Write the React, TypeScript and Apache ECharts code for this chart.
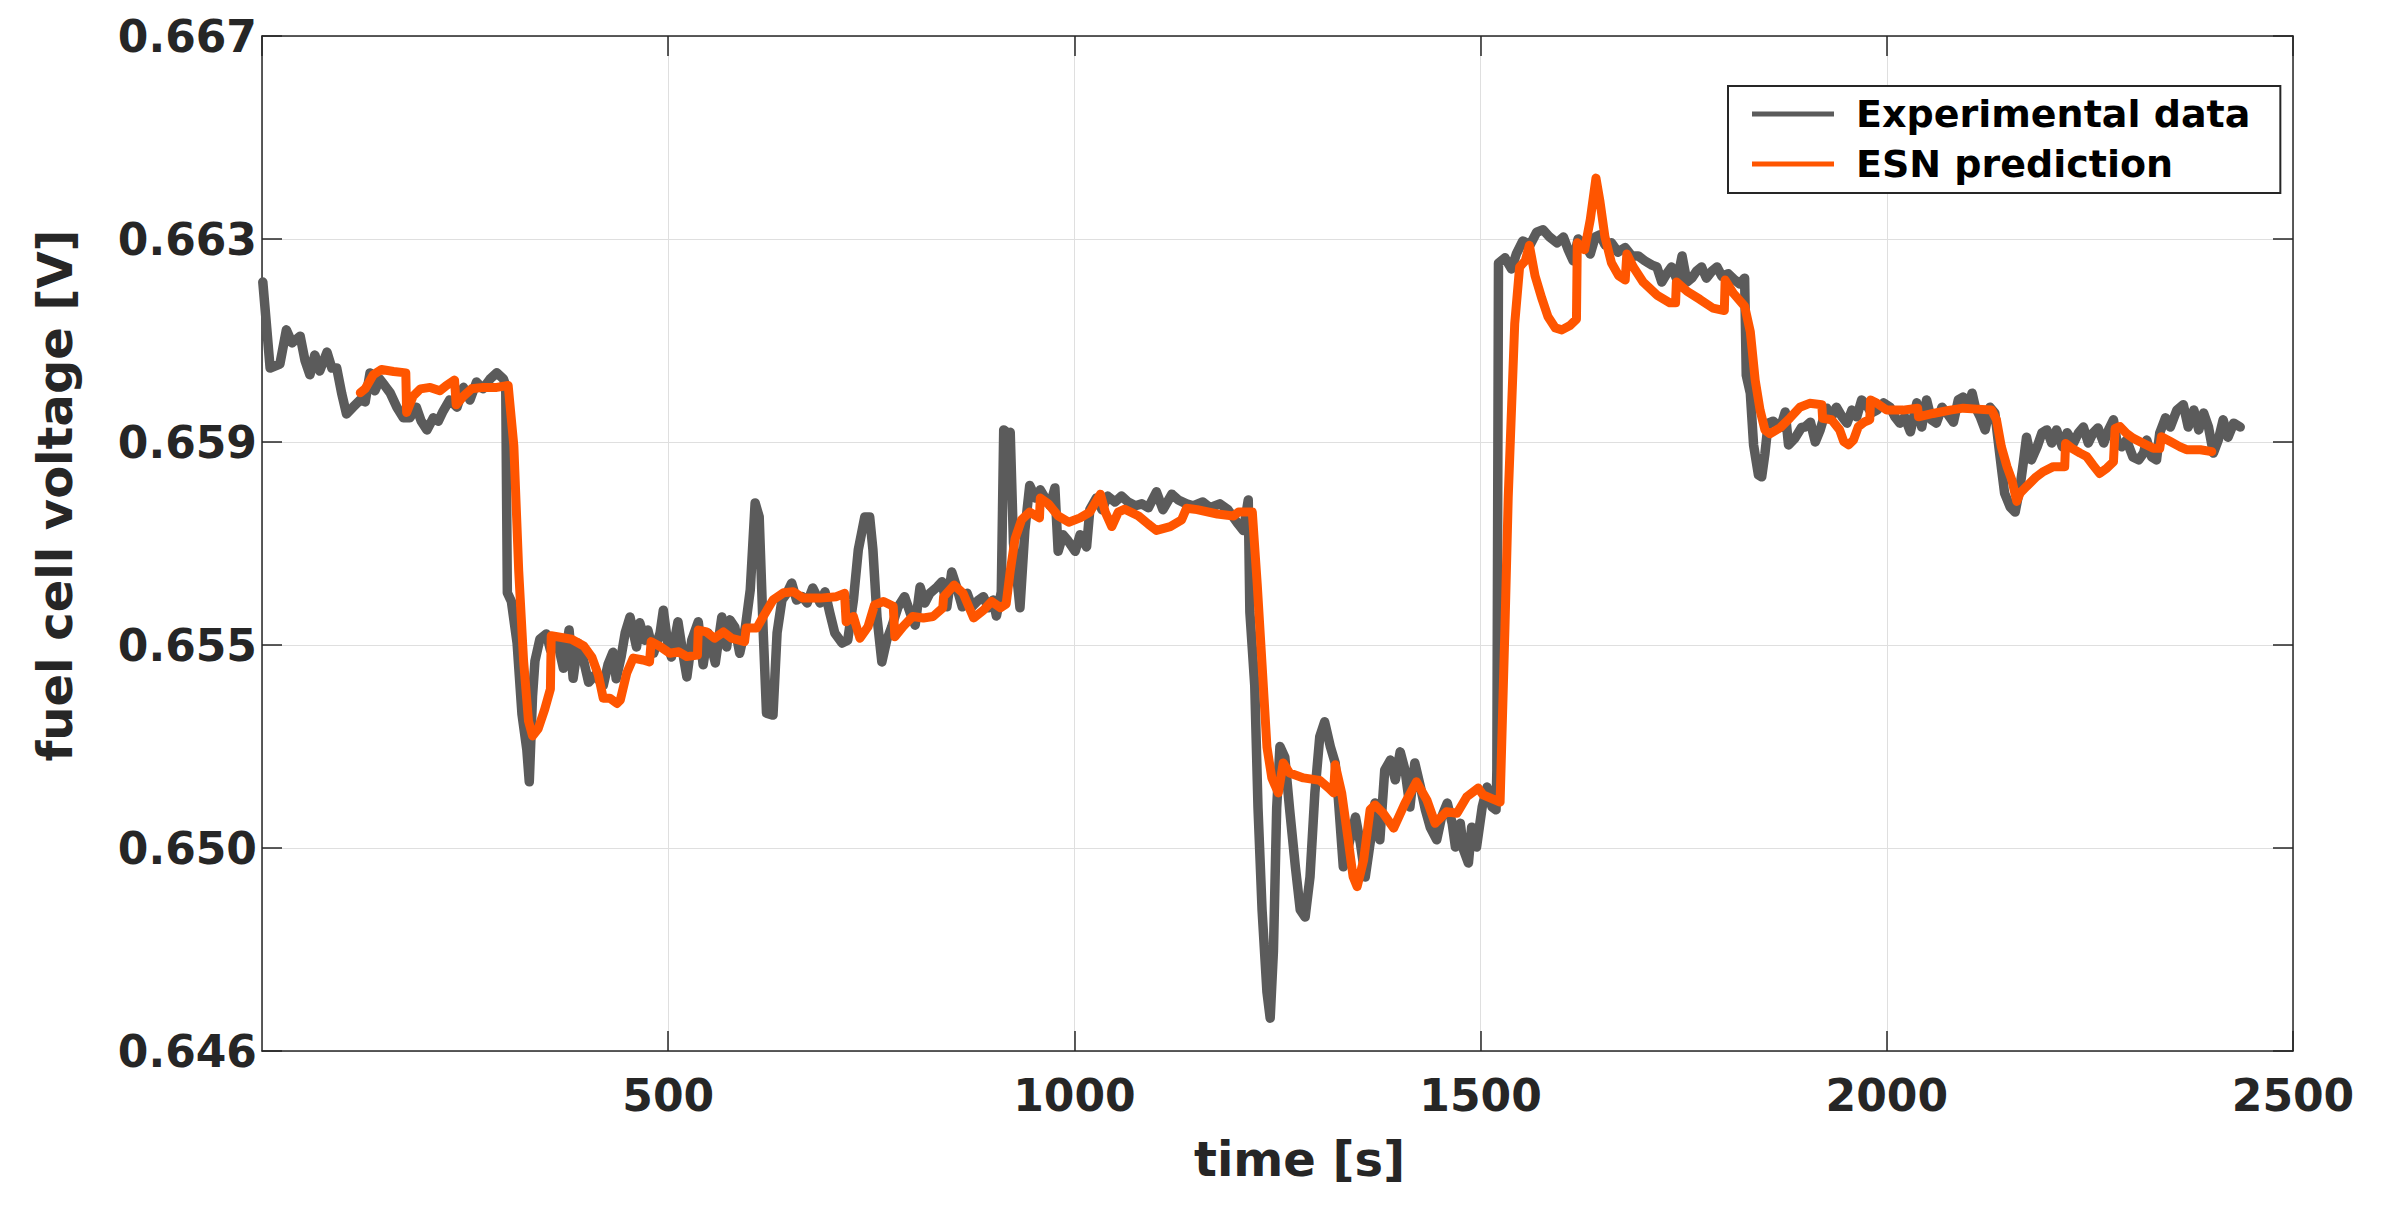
import React, { useEffect, useRef } from "react";
import * as echarts from "echarts";

// ---- axis settings ----
const X_MIN = 0;
const X_MAX = 2500;
const X_STEP = 500;
const Y_MIN = 0.6462;
const Y_MAX = 0.6672;
const Y_STEP = 0.0042;

const seriesNames = ["Experimental data", "ESN prediction"];

// ---- experimental data (time [s], voltage [V]) ----
const expTime = [
  1, 10, 22, 30, 37, 47, 53, 59, 65, 71, 80, 86, 92, 98, 104, 112, 121, 127, 133, 139,
  145, 151, 158, 166, 174, 182, 190, 196, 203, 211, 217, 223, 231, 240, 248, 256, 264, 272, 281, 289,
  297, 300, 302, 307, 314, 320, 326, 329, 333, 336, 342, 350, 355, 363, 371, 378, 383, 389, 396, 402,
  410, 420, 426, 432, 436, 442, 447, 453, 461, 465, 471, 475, 482, 490, 494, 500, 504, 512, 518, 523,
  529, 537, 543, 549, 558, 566, 572, 576, 582, 588, 595, 601, 607, 612, 617, 621, 629, 634, 640, 646,
  652, 658, 665, 671, 678, 687, 693, 699, 705, 714, 721, 728, 734, 742, 748, 752, 757, 763, 769, 775,
  783, 791, 798, 804, 810, 816, 822, 831, 837, 843, 849, 855, 862, 868, 874, 882, 888, 894, 900, 904,
  910, 913, 917, 921, 925, 933, 939, 945, 952, 958, 964, 970, 976, 980, 986, 992, 1001, 1007, 1015, 1019,
  1027, 1034, 1041, 1050, 1058, 1066, 1075, 1083, 1091, 1101, 1109, 1120, 1128, 1138, 1146, 1158, 1167, 1179, 1189, 1200,
  1208, 1214, 1216, 1222, 1226, 1231, 1237, 1241, 1245, 1249, 1253, 1259, 1265, 1272, 1278, 1284, 1290, 1296, 1302, 1308,
  1315, 1321, 1325, 1331, 1337, 1346, 1352, 1358, 1364, 1370, 1376, 1382, 1389, 1395, 1401, 1407, 1413, 1419, 1426, 1432,
  1438, 1446, 1452, 1459, 1465, 1469, 1475, 1479, 1485, 1489, 1495, 1502, 1508, 1514, 1519, 1520, 1522, 1530, 1538, 1544,
  1552, 1561, 1569, 1577, 1585, 1594, 1602, 1608, 1614, 1620, 1629, 1635, 1641, 1647, 1653, 1661, 1669, 1678, 1686, 1694,
  1702, 1711, 1717, 1723, 1729, 1735, 1742, 1748, 1754, 1760, 1766, 1772, 1778, 1785, 1791, 1797, 1805, 1813, 1819, 1825,
  1827, 1832, 1836, 1842, 1846, 1850, 1854, 1860, 1869, 1875, 1879, 1887, 1895, 1899, 1906, 1912, 1918, 1926, 1932, 1938,
  1945, 1951, 1957, 1963, 1969, 1975, 1981, 1988, 1996, 2004, 2010, 2016, 2022, 2029, 2037, 2043, 2049, 2055, 2061, 2068,
  2074, 2082, 2088, 2094, 2100, 2105, 2109, 2115, 2121, 2127, 2133, 2137, 2141, 2145, 2152, 2158, 2164, 2168, 2172, 2178,
  2185, 2191, 2197, 2203, 2209, 2216, 2222, 2230, 2236, 2242, 2248, 2254, 2260, 2267, 2273, 2279, 2283, 2289, 2295, 2303,
  2310, 2316, 2320, 2326, 2332, 2336, 2343, 2349, 2357, 2365, 2371, 2378, 2384, 2390, 2396, 2402, 2408, 2414, 2420, 2427,
  2435,
];
const expVoltage = [
  0.66211, 0.66033, 0.66041, 0.66112, 0.66085, 0.66099, 0.66048, 0.66019, 0.6606, 0.66027, 0.66066, 0.66033, 0.66033, 0.65981, 0.65938, 0.65952, 0.65967, 0.65963, 0.66023, 0.65986,
  0.6601, 0.65997, 0.65981, 0.65952, 0.6593, 0.6593, 0.65952, 0.65923, 0.65905, 0.6593, 0.65923, 0.65944, 0.65967, 0.65952, 0.65993, 0.65967, 0.66004, 0.6599, 0.66011, 0.66023,
  0.66011, 0.65997, 0.65568, 0.6555, 0.65464, 0.65317, 0.65243, 0.65177, 0.65354, 0.65427, 0.65472, 0.65483, 0.6545, 0.65472, 0.65412, 0.65491, 0.65391, 0.65464, 0.65427, 0.65383,
  0.65398, 0.65376, 0.6542, 0.65445, 0.6539, 0.65435, 0.65485, 0.65518, 0.65456, 0.65506, 0.6547, 0.65491, 0.65443, 0.65485, 0.65532, 0.65456, 0.65435, 0.65508, 0.65443, 0.65394,
  0.6547, 0.65508, 0.65419, 0.65485, 0.65423, 0.65518, 0.65456, 0.65512, 0.65497, 0.65443, 0.65497, 0.65574, 0.65754, 0.65725, 0.65485, 0.65319, 0.65315, 0.65485, 0.65553, 0.65567,
  0.65588, 0.65553, 0.6556, 0.65547, 0.65578, 0.65547, 0.6557, 0.65526, 0.65485, 0.65464, 0.6547, 0.65553, 0.65657, 0.65725, 0.65725, 0.65657, 0.65518, 0.65425, 0.6547, 0.65497,
  0.65539, 0.6556, 0.65526, 0.65501, 0.6558, 0.65547, 0.65567, 0.6558, 0.65591, 0.65539, 0.65611, 0.6558, 0.65539, 0.65567, 0.65539, 0.65553, 0.6556, 0.65537, 0.65553, 0.6552,
  0.6557, 0.65905, 0.65899, 0.659, 0.65671, 0.65537, 0.65697, 0.6579, 0.65764, 0.65781, 0.65764, 0.65748, 0.65785, 0.65654, 0.65688, 0.65676, 0.65654, 0.65688, 0.65663, 0.6574,
  0.65764, 0.6574, 0.65768, 0.65756, 0.65768, 0.65756, 0.65748, 0.65752, 0.65744, 0.65777, 0.6574, 0.65772, 0.6576, 0.65752, 0.65748, 0.65756, 0.65744, 0.65752, 0.6574, 0.65714,
  0.65697, 0.6576, 0.65528, 0.65376, 0.65123, 0.64912, 0.64742, 0.64688, 0.64827, 0.65123, 0.6525, 0.65228, 0.65119, 0.65001, 0.64912, 0.64897, 0.6498, 0.65154, 0.6527, 0.65301,
  0.6525, 0.65216, 0.65139, 0.65001, 0.65042, 0.65104, 0.6505, 0.6498, 0.6505, 0.65133, 0.65057, 0.65201, 0.65222, 0.65181, 0.65239, 0.65201, 0.65125, 0.65216, 0.65166, 0.65119,
  0.65083, 0.65057, 0.65104, 0.65133, 0.65091, 0.65042, 0.65091, 0.65036, 0.65009, 0.65083, 0.65042, 0.65125, 0.65166, 0.65125, 0.65119, 0.652, 0.6625, 0.66261, 0.66238, 0.66269,
  0.66296, 0.66288, 0.66314, 0.66319, 0.66304, 0.66292, 0.66304, 0.66277, 0.66255, 0.663, 0.66288, 0.66269, 0.66304, 0.66309, 0.66288, 0.66292, 0.66273, 0.66282, 0.66265, 0.66265,
  0.66255, 0.66246, 0.66242, 0.66211, 0.66228, 0.66242, 0.66215, 0.66265, 0.66211, 0.66219, 0.66234, 0.66242, 0.66219, 0.66234, 0.66242, 0.66223, 0.66228, 0.66215, 0.66207, 0.66219,
  0.66018, 0.65981, 0.65874, 0.65812, 0.65808, 0.65856, 0.65919, 0.65923, 0.6591, 0.65942, 0.65874, 0.65888, 0.6591, 0.65911, 0.65921, 0.6588, 0.65905, 0.6595, 0.65932, 0.65952,
  0.65932, 0.65919, 0.65946, 0.65932, 0.65967, 0.65957, 0.6594, 0.65946, 0.65961, 0.65952, 0.65932, 0.65919, 0.65932, 0.65901, 0.65961, 0.65911, 0.65967, 0.65926, 0.65919, 0.65952,
  0.6594, 0.65921, 0.65967, 0.65973, 0.65952, 0.65981, 0.65952, 0.65932, 0.65905, 0.65952, 0.6594, 0.65884, 0.65828, 0.65774, 0.65745, 0.65735, 0.65787, 0.65837, 0.6589, 0.65843,
  0.6587, 0.65899, 0.65905, 0.65878, 0.65905, 0.6587, 0.65899, 0.65878, 0.65899, 0.65911, 0.65878, 0.65899, 0.65909, 0.65878, 0.65905, 0.65926, 0.65884, 0.6587, 0.65884, 0.65849,
  0.65843, 0.65857, 0.65884, 0.65849, 0.65843, 0.65899, 0.6593, 0.65911, 0.65946, 0.65957, 0.65911, 0.65946, 0.65905, 0.6594, 0.65911, 0.65857, 0.65884, 0.65926, 0.6589, 0.65919,
  0.65911,
];

// ---- ESN prediction (time [s], voltage [V]) ----
const esnTime = [
  121, 127, 137, 147, 162, 177, 178, 186, 195, 207, 219, 227, 237, 239, 248, 258, 272, 289, 303, 310,
  316, 322, 328, 333, 340, 348, 355, 356, 367, 381, 396, 406, 414, 420, 428, 437, 441, 449, 457, 469,
  477, 479, 490, 502, 513, 523, 536, 537, 547, 557, 568, 578, 594, 596, 609, 617, 629, 642, 654, 666,
  687, 707, 717, 719, 728, 736, 746, 754, 765, 777, 779, 789, 801, 814, 826, 838, 839, 852, 863, 876,
  888, 898, 909, 916, 921, 927, 935, 945, 957, 958, 968, 980, 993, 1007, 1019, 1032, 1038, 1046, 1054, 1062,
  1079, 1091, 1101, 1118, 1132, 1138, 1151, 1176, 1196, 1202, 1219, 1225, 1231, 1237, 1243, 1251, 1257, 1265, 1282, 1302,
  1313, 1319, 1321, 1329, 1337, 1343, 1348, 1356, 1364, 1370, 1380, 1393, 1407, 1421, 1434, 1444, 1458, 1471, 1483, 1497,
  1503, 1524, 1530, 1534, 1538, 1542, 1548, 1555, 1560, 1567, 1575, 1583, 1592, 1600, 1610, 1618, 1619, 1628, 1635, 1642,
  1647, 1653, 1661, 1670, 1678, 1680, 1688, 1700, 1717, 1733, 1740, 1741, 1754, 1770, 1786, 1800, 1801, 1811, 1825, 1832,
  1838, 1844, 1850, 1856, 1869, 1881, 1893, 1905, 1920, 1921, 1932, 1942, 1947, 1953, 1959, 1965, 1973, 1979, 1980, 1988,
  2000, 2020, 2038, 2039, 2057, 2078, 2094, 2111, 2129, 2135, 2141, 2148, 2154, 2160, 2164, 2172, 2184, 2193, 2205, 2219,
  2220, 2228, 2238, 2246, 2254, 2262, 2271, 2279, 2281, 2287, 2295, 2303, 2316, 2328, 2336, 2338, 2349, 2361, 2369, 2386,
  2400,
];
const esnVoltage = [
  0.65982, 0.6599, 0.66019, 0.6603, 0.66026, 0.66023, 0.65941, 0.65975, 0.6599, 0.65993, 0.65986, 0.65997, 0.66008, 0.65957, 0.65975, 0.6599, 0.65993, 0.65993, 0.65997, 0.65872,
  0.65613, 0.65427, 0.65303, 0.65272, 0.65287, 0.65327, 0.65369, 0.65479, 0.65476, 0.65472, 0.65458, 0.65435, 0.65398, 0.6535, 0.6535, 0.65339, 0.65346, 0.65402, 0.65433, 0.65429,
  0.65425, 0.65467, 0.65457, 0.65443, 0.65446, 0.65436, 0.65439, 0.65491, 0.65487, 0.65474, 0.65487, 0.65474, 0.65467, 0.65495, 0.65495, 0.65519, 0.65553, 0.65568, 0.6557, 0.65557,
  0.65557, 0.6556, 0.65567, 0.65508, 0.65519, 0.65474, 0.65498, 0.65543, 0.6555, 0.6554, 0.65477, 0.65498, 0.65519, 0.65516, 0.65519, 0.65537, 0.6556, 0.65584, 0.65567, 0.65516,
  0.65532, 0.6555, 0.65537, 0.65545, 0.65613, 0.6568, 0.65719, 0.65735, 0.65723, 0.65764, 0.65752, 0.65727, 0.65714, 0.65723, 0.65735, 0.65772, 0.65735, 0.65705, 0.65735, 0.65741,
  0.65727, 0.6571, 0.65697, 0.65705, 0.65719, 0.65743, 0.6574, 0.65731, 0.65727, 0.65735, 0.65735, 0.65587, 0.65419, 0.65249, 0.65185, 0.65154, 0.65216, 0.65195, 0.65185, 0.6518,
  0.65164, 0.65154, 0.65212, 0.65154, 0.65057, 0.64981, 0.6496, 0.65015, 0.65119, 0.65129, 0.65112, 0.65081, 0.65133, 0.65177, 0.65139, 0.65091, 0.65115, 0.65112, 0.65146, 0.65164,
  0.6515, 0.65135, 0.65497, 0.65766, 0.65946, 0.66125, 0.66242, 0.66255, 0.66287, 0.66224, 0.66179, 0.66139, 0.66116, 0.66112, 0.66121, 0.66134, 0.66292, 0.66278, 0.6634, 0.66426,
  0.66377, 0.66305, 0.66251, 0.66224, 0.66215, 0.66269, 0.66242, 0.66211, 0.66184, 0.66168, 0.66168, 0.66211, 0.66192, 0.66175, 0.66157, 0.66152, 0.66215, 0.66188, 0.66161, 0.66108,
  0.66008, 0.65946, 0.65905, 0.65897, 0.6591, 0.6593, 0.65952, 0.6596, 0.65957, 0.65929, 0.65926, 0.65905, 0.65881, 0.65874, 0.65884, 0.65912, 0.65922, 0.65926, 0.65967, 0.6596,
  0.65946, 0.65946, 0.6595, 0.65932, 0.65939, 0.65946, 0.6595, 0.65948, 0.65946, 0.65926, 0.6587, 0.65829, 0.65801, 0.65757, 0.65774, 0.65788, 0.65808, 0.65819, 0.65829, 0.65829,
  0.65877, 0.65867, 0.65857, 0.6585, 0.65832, 0.65815, 0.65826, 0.65839, 0.65908, 0.65912, 0.65898, 0.65888, 0.65877, 0.65867, 0.65867, 0.65891, 0.65881, 0.6587, 0.65864, 0.65864,
  0.6586,
];

const FONT = "DejaVu Sans";
const AXIS_COLOR = "#262626";
const GRID_COLOR = "#dfdfdf";
const EXP_COLOR = "#5b5b5b";
const ESN_COLOR = "#ff5500";

function buildOption() {
  const axisLine = { show: true, onZero: false, lineStyle: { color: AXIS_COLOR, width: 1.5 } };
  const axisTick = { show: true, inside: true, length: 20, lineStyle: { color: AXIS_COLOR, width: 1.5 } };
  const splitLine = { show: true, lineStyle: { color: GRID_COLOR, width: 1 } };
  const labelStyle = { fontFamily: FONT, fontSize: 44, fontWeight: "bold" as const, color: AXIS_COLOR };

  return {
    animation: false,
    backgroundColor: "#ffffff",
    grid: { left: 262, right: 95, top: 36, bottom: 161 },
    legend: {
      data: seriesNames,
      orient: "vertical",
      left: 1728,
      top: 86,
      padding: [8, 30, 9, 24],
      itemWidth: 82,
      itemHeight: 5,
      itemGap: 10,
      icon: "rect",
      backgroundColor: "#ffffff",
      borderColor: AXIS_COLOR,
      borderWidth: 2,
      selectedMode: false,
      textStyle: {
        fontFamily: FONT,
        fontSize: 38,
        fontWeight: "bold",
        color: "#000000",
        lineHeight: 40,
        padding: [0, 0, 0, 17],
      },
    },
    xAxis: [
      {
        type: "value",
        position: "bottom",
        min: X_MIN,
        max: X_MAX,
        interval: X_STEP,
        name: "time [s]",
        nameLocation: "middle",
        nameGap: 84,
        nameTextStyle: { fontFamily: FONT, fontSize: 48, fontWeight: "bold", color: AXIS_COLOR, padding: [0, 0, 0, 44] },
        axisLine,
        axisTick,
        axisLabel: { ...labelStyle, margin: 22, showMinLabel: false, formatter: (v: number) => String(v) },
        splitLine,
      },
      {
        type: "value",
        position: "top",
        min: X_MIN,
        max: X_MAX,
        interval: X_STEP,
        axisLine,
        axisTick,
        axisLabel: { show: false },
        splitLine: { show: false },
      },
    ],
    yAxis: [
      {
        type: "value",
        position: "left",
        min: Y_MIN,
        max: Y_MAX,
        interval: Y_STEP,
        name: "fuel cell voltage [V]",
        nameLocation: "middle",
        nameGap: 183,
        nameTextStyle: { fontFamily: FONT, fontSize: 48, fontWeight: "bold", color: AXIS_COLOR, padding: [0, 0, 0, 96] },
        axisLine,
        axisTick,
        axisLabel: { ...labelStyle, margin: 5, formatter: (v: number) => v.toFixed(3) },
        splitLine,
      },
      {
        type: "value",
        position: "right",
        min: Y_MIN,
        max: Y_MAX,
        interval: Y_STEP,
        axisLine,
        axisTick,
        axisLabel: { show: false },
        splitLine: { show: false },
      },
    ],
    series: [
      {
        name: seriesNames[0],
        type: "line",
        xAxisIndex: 0,
        yAxisIndex: 0,
        data: expTime.map((t, i) => [t, expVoltage[i]]),
        symbol: "none",
        showSymbol: false,
        lineStyle: { color: EXP_COLOR, width: 9.5, cap: "round", join: "round" },
        itemStyle: { color: EXP_COLOR },
        z: 2,
      },
      {
        name: seriesNames[1],
        type: "line",
        xAxisIndex: 0,
        yAxisIndex: 0,
        data: esnTime.map((t, i) => [t, esnVoltage[i]]),
        symbol: "none",
        showSymbol: false,
        lineStyle: { color: ESN_COLOR, width: 9, cap: "round", join: "round" },
        itemStyle: { color: ESN_COLOR },
        z: 3,
      },
    ],
  };
}

export default function App() {
  const ref = useRef<HTMLDivElement>(null);
  useEffect(() => {
    if (!ref.current) return;
    const chart = echarts.init(ref.current, undefined, { renderer: "svg" });
    chart.setOption(buildOption() as any);
    return () => chart.dispose();
  }, []);
  return (
    <div
      ref={ref}
      style={{ position: "fixed", left: 0, top: 0, width: 2388, height: 1212, background: "#ffffff" }}
    />
  );
}
